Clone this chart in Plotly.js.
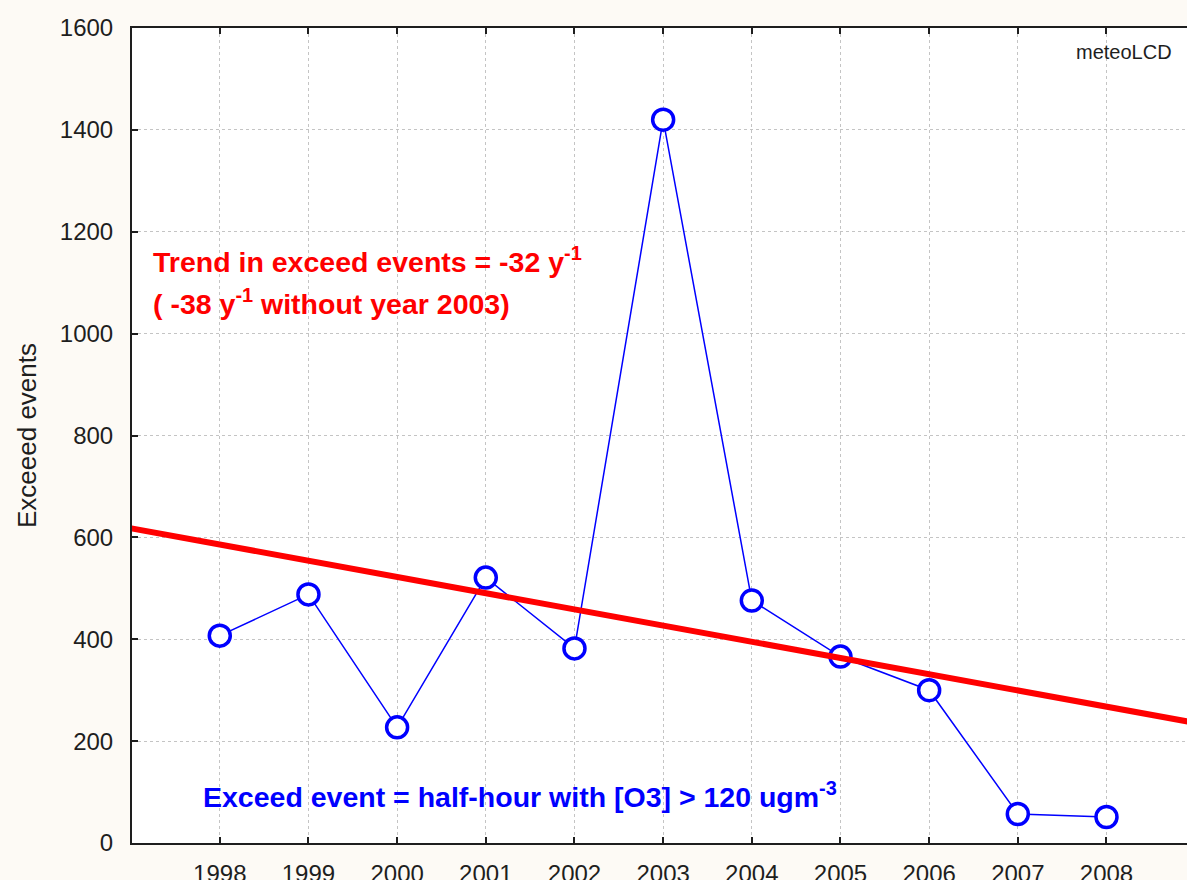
<!DOCTYPE html>
<html>
<head>
<meta charset="utf-8">
<script src="https://cdn.plot.ly/plotly-3.0.1.min.js"></script>
<style>
  html, body { margin: 0; padding: 0; background: #fdfaf5; }
  #chart { width: 1187px; height: 880px; }
</style>
</head>
<body>
<div id="chart"></div>
<script>
// Data
const years = [1998, 1999, 2000, 2001, 2002, 2003, 2004, 2005, 2006, 2007, 2008];
const exceedEvents = [407, 488, 227, 521, 382, 1420, 476, 366, 300, 57, 51];
const yTicks = [0, 200, 400, 600, 800, 1000, 1200, 1400, 1600];

// Least-squares trend of the series, drawn across the full axis span
const n = years.length;
const mx = years.reduce((a, b) => a + b, 0) / n;
const my = exceedEvents.reduce((a, b) => a + b, 0) / n;
let sxy = 0, sxx = 0;
for (let i = 0; i < n; i++) {
  sxy += (years[i] - mx) * (exceedEvents[i] - my);
  sxx += (years[i] - mx) * (years[i] - mx);
}
const slope = sxy / sxx;
const trendX = [1996.5, 2009.5];
const trendY = trendX.map(x => my + slope * (x - mx));

const xRange = [1997.01, 2008.908];

const traces = [
  {
    x: years, y: exceedEvents, type: 'scatter', mode: 'lines+markers',
    line: { color: '#0000ff', width: 1.5 },
    marker: { symbol: 'circle', size: 21, color: '#ffffff', line: { color: '#0000ff', width: 3.5 } },
    hoverinfo: 'x+y', showlegend: false, cliponaxis: true
  },
  {
    x: trendX, y: trendY, type: 'scatter', mode: 'lines',
    line: { color: '#ff0000', width: 6 },
    hoverinfo: 'skip', showlegend: false
  }
];

const tickFont = { family: 'Liberation Sans, Arial, sans-serif', size: 24, color: '#1e1e1e' };

const layout = {
  width: 1187, height: 880,
  paper_bgcolor: '#fdfaf5',
  plot_bgcolor: '#ffffff',
  margin: { l: 132, r: 0, t: 28, b: 37 },
  showlegend: false,
  xaxis: {
    range: xRange,
    tickmode: 'array', tickvals: years, ticktext: years.map(String),
    ticks: 'inside', ticklen: 6, tickwidth: 2, tickcolor: '#1e1e1e',
    showline: true, linecolor: '#1e1e1e', linewidth: 2, mirror: 'ticks',
    showgrid: true, gridcolor: '#c4c4c4', griddash: 'dot', gridwidth: 1,
    zeroline: false,
    tickfont: tickFont,
    ticklabelstandoff: 8
  },
  yaxis: {
    range: [0, 1600],
    tickmode: 'array', tickvals: yTicks, ticktext: yTicks.map(String),
    ticks: 'inside', ticklen: 6, tickwidth: 2, tickcolor: '#1e1e1e',
    showline: true, linecolor: '#1e1e1e', linewidth: 2, mirror: false,
    showgrid: true, gridcolor: '#c4c4c4', griddash: 'dot', gridwidth: 1,
    zeroline: false,
    tickfont: tickFont,
    ticklabelstandoff: 12,
    automargin: true,
    title: { text: 'Exceeed events', standoff: 16, font: { family: 'Liberation Sans, Arial, sans-serif', size: 26, color: '#1e1e1e' } }
  },
  annotations: [
    {
      x: 1997.22, y: 1145, xref: 'x', yref: 'y', xanchor: 'left', yanchor: 'middle',
      text: 'Trend in exceed events = -32 y<sup>-1</sup>', showarrow: false,
      font: { family: 'Liberation Sans, Arial, sans-serif', size: 28.5, color: '#ff0000', weight: 'bold' }
    },
    {
      x: 1997.22, y: 1063, xref: 'x', yref: 'y', xanchor: 'left', yanchor: 'middle',
      text: '( -38 y<sup>-1</sup> without year 2003)', showarrow: false,
      font: { family: 'Liberation Sans, Arial, sans-serif', size: 28.5, color: '#ff0000', weight: 'bold' }
    },
    {
      x: 1997.79, y: 95, xref: 'x', yref: 'y', xanchor: 'left', yanchor: 'middle',
      text: 'Exceed event = half-hour with [O3] &gt; 120 ugm<sup>-3</sup>', showarrow: false,
      font: { family: 'Liberation Sans, Arial, sans-serif', size: 28.5, color: '#0000ff', weight: 'bold' }
    },
    {
      x: 2008.76, y: 1553, xref: 'x', yref: 'y', xanchor: 'right', yanchor: 'middle',
      text: 'meteoLCD', showarrow: false,
      font: { family: 'Liberation Sans, Arial, sans-serif', size: 20, color: '#1e1e1e' }
    }
  ]
};

Plotly.newPlot('chart', traces, layout, { displayModeBar: false, staticPlot: true });
</script>
</body>
</html>
